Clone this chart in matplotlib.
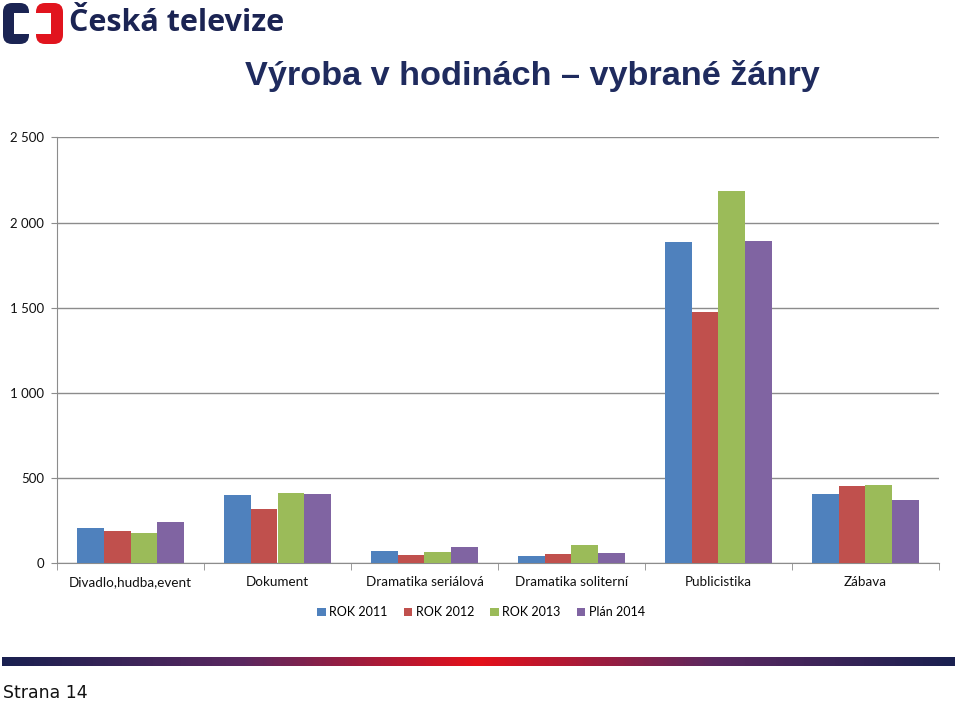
import numpy as np
import matplotlib
matplotlib.use('Agg')
from matplotlib import pyplot as plt
from matplotlib.patches import FancyBboxPatch, Rectangle
from matplotlib.colors import LinearSegmentedColormap
from matplotlib.ticker import FuncFormatter, FixedLocator

# data
categories = ['Divadlo,hudba,event', 'Dokument', 'Dramatika seriálová',
              'Dramatika soliterní', 'Publicistika', 'Zábava']
series_names = ['ROK 2011', 'ROK 2012', 'ROK 2013', 'Plán 2014']
rok_2011 = [210, 401, 70, 41, 1884, 407]
rok_2012 = [190, 319, 50, 53, 1476, 455]
rok_2013 = [179, 412, 66, 107, 2183, 459]
plan_2014 = [240, 409, 93, 62, 1893, 373]
y_ticks = [0, 500, 1000, 1500, 2000, 2500]

colors = ['#4F81BD', '#C0504D', '#9BBB59', '#8064A2']

fig = plt.figure(figsize=(9.6, 7.01), dpi=100)

# background decoration layer (pixel coords)
deco = fig.add_axes([0, 0, 1, 1])
deco.axis('off')

# logo
deco.add_patch(FancyBboxPatch((3, 3), 26, 41, boxstyle='round,pad=0,rounding_size=9',
                              fc='#1B2453', ec='none'))
deco.add_patch(Rectangle((14, 13), 17, 21, fc='white', ec='none'))
deco.add_patch(FancyBboxPatch((36, 3), 27, 41, boxstyle='round,pad=0,rounding_size=9',
                              fc='#E1141E', ec='none'))
deco.add_patch(Rectangle((34, 13), 17, 21, fc='white', ec='none'))
deco.text(69, 23, 'Česká televize', fontsize=22, fontweight='bold', color='#1B2453',
          family='Open Sans', va='center', ha='left')

# title
deco.text(532, 76, 'Výroba v hodinách – vybrané žánry', fontsize=24.7, fontweight='bold',
          color='#1F2B5E', family='Liberation Sans', ha='center', va='center')

# gradient stripe
cmap = LinearSegmentedColormap.from_list('stripe', ['#1A2050', '#5A2860', '#E5101A',
                                                    '#5A2860', '#1A2050'])
deco.imshow(np.linspace(0, 1, 400).reshape(1, -1), cmap=cmap, aspect='auto',
            extent=(2, 955, 666, 657))
deco.set_xlim(0, 960)
deco.set_ylim(701, 0)

deco.text(3, 693, 'Strana 14', fontsize=12.5, color='#111111', family='DejaVu Sans',
          ha='left', va='center')

# chart
ax = fig.add_axes([57 / 960, 1 - 563.3 / 701, (939 - 57) / 960, (563.3 - 137.3) / 701])
x = np.arange(len(categories))
width = 0.182
all_series = [rok_2011, rok_2012, rok_2013, plan_2014]
for i, (vals, name) in enumerate(zip(all_series, series_names)):
    ax.bar(x + (i - 1.5) * width, vals, width, color=colors[i], label=name, zorder=3)

ax.set_xlim(-0.5, len(categories) - 0.5)
ax.set_ylim(0, 2500)
ax.set_yticks(y_ticks)
ax.yaxis.set_major_formatter(FuncFormatter(lambda v, p: f'{int(v):,}'.replace(',', ' ')))
ax.grid(axis='y', color='#8C8C8C', linewidth=1, zorder=0)
for s in ['top', 'right']:
    ax.spines[s].set_visible(False)
for s in ['left', 'bottom']:
    ax.spines[s].set_color('#8C8C8C')
ax.set_xticks(x)
ax.set_xticklabels(categories)
ax.xaxis.set_minor_locator(FixedLocator(np.arange(len(categories) + 1) - 0.5))
ax.tick_params(axis='x', which='major', length=0, pad=9.5, labelsize=9.7)
ax.tick_params(axis='x', which='minor', length=5, color='#8C8C8C')
ax.tick_params(axis='y', length=4, color='#8C8C8C', labelsize=9.5, pad=5.5)
for lab in ax.get_xticklabels() + ax.get_yticklabels():
    lab.set_family('Lato')
    lab.set_color('#111111')

leg = ax.legend(loc='center', bbox_to_anchor=(0.481, -0.115), ncol=4,
                frameon=False, handlelength=0.65, handleheight=0.65, handletextpad=0.3,
                columnspacing=1.3, prop={'family': 'Lato', 'size': 9})

fig.savefig('out.png', dpi=100, facecolor='white')
